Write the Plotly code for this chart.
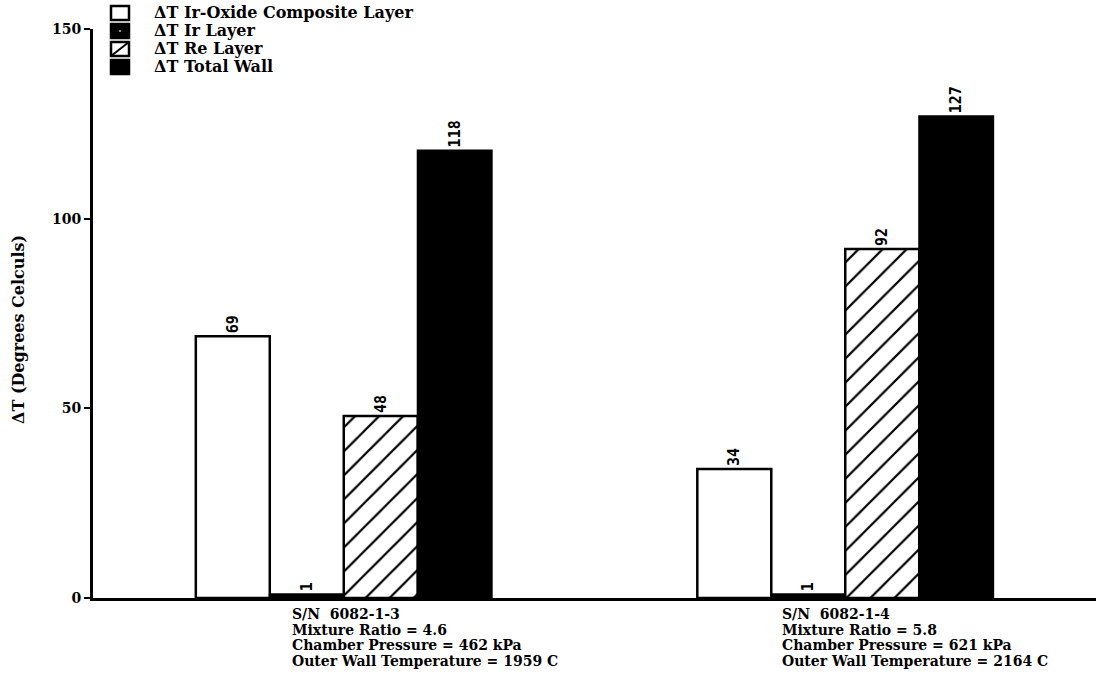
import plotly.graph_objects as go

# Test articles and their firing conditions
samples = ["S/N\u00a0 6082-1-3", "S/N\u00a0 6082-1-4"]
mixture_ratio = [4.6, 5.8]
chamber_pressure_kpa = [462, 621]
outer_wall_temp_c = [1959, 2164]

# Temperature drop across each layer (degrees C)
series_names = ["ΔT Ir-Oxide Composite Layer", "ΔT Ir Layer", "ΔT Re Layer", "ΔT Total Wall"]
dt_ir_oxide = [69, 34]
dt_ir = [1, 1]
dt_re = [48, 92]
dt_total = [118, 127]

y_ticks = [0, 50, 100, 150]

SERIF = "DejaVu Serif"
W, H = 1099, 685
ML, MR, MT, MB = 93, 3, 29, 87
PW, PH = W - ML - MR, H - MT - MB


def px_x(p):
    return (p - ML) / PW


def px_y(p):
    return (H - MB - p) / PH


label_font = dict(family="DejaVu Sans Mono", size=15, color="black", weight="bold")

styles = [
    dict(color="white", line=dict(color="black", width=2.5)),
    dict(color="black", line=dict(color="black", width=2)),
    dict(color="white", line=dict(color="black", width=2.5),
         pattern=dict(shape="/", fgcolor="#000000", fgopacity=1, bgcolor="white",
                      size=17, solidity=0.13, fillmode="replace")),
    dict(color="black", line=dict(color="black", width=2)),
]

fig = go.Figure()
for name, vals, marker in zip(series_names, [dt_ir_oxide, dt_ir, dt_re, dt_total], styles):
    fig.add_trace(go.Bar(
        name=name, x=samples, y=vals, marker=marker,
        text=[str(v) for v in vals], textposition="outside", textangle=-90,
        textfont=label_font, constraintext="none", cliponaxis=False,
        showlegend=False,
    ))

# Key in the top-left corner
key_rows = [13, 31, 49, 67]
shapes = []
annotations = []
for k, (name, yc) in enumerate(zip(series_names, key_rows)):
    x0, x1 = px_x(111), px_x(129)
    y0, y1 = px_y(yc + 7), px_y(yc - 7)
    fill = "black" if k in (1, 3) else "white"
    shapes.append(dict(type="rect", xref="paper", yref="paper", x0=x0, x1=x1, y0=y0, y1=y1,
                       fillcolor=fill, line=dict(color="black", width=2.5)))
    if k == 2:
        shapes.append(dict(type="line", xref="paper", yref="paper", x0=x0, x1=x1, y0=y0, y1=y1,
                           line=dict(color="black", width=2)))
    if k == 1:
        shapes.append(dict(type="rect", xref="paper", yref="paper",
                           x0=px_x(119), x1=px_x(121), y0=px_y(yc + 1), y1=px_y(yc - 1),
                           fillcolor="#888", line=dict(width=0)))
    annotations.append(dict(text=name, xref="paper", yref="paper", x=px_x(152), y=px_y(yc),
                            xanchor="left", yanchor="middle", showarrow=False,
                            font=dict(family=SERIF, size=16, color="black", weight="bold")))

# Test-condition captions under each group
caption_shift = [-54, -65]
for i, s in enumerate(samples):
    lines = [
        s,
        f"Mixture Ratio = {mixture_ratio[i]}",
        f"Chamber Pressure = {chamber_pressure_kpa[i]} kPa",
        f"Outer Wall Temperature = {outer_wall_temp_c[i]} C",
    ]
    for j, line in enumerate(lines):
        annotations.append(dict(text=line, xref="x", yref="paper", x=s, y=0,
                                xanchor="left", yanchor="middle", xshift=caption_shift[i],
                                yshift=-(16 + 15.6 * j), showarrow=False,
                                font=dict(family=SERIF, size=14, color="black", weight="bold")))

annotations.append(dict(text="ΔT (Degrees Celculs)", xref="paper", yref="paper",
                        x=px_x(18), y=px_y(330), textangle=-90, xanchor="center",
                        yanchor="middle", showarrow=False,
                        font=dict(family=SERIF, size=16, color="black", weight="bold")))

fig.update_layout(
    width=W, height=H,
    margin=dict(l=ML, r=MR, t=MT, b=MB),
    paper_bgcolor="white", plot_bgcolor="white",
    barmode="group", bargap=0.41, bargroupgap=0,
    shapes=shapes, annotations=annotations,
    xaxis=dict(range=[-0.5, 1.5], showticklabels=False, ticks="", showgrid=False,
               zeroline=False, showline=True, linecolor="black", linewidth=2.5),
    yaxis=dict(range=[0, 150], tickvals=y_ticks, ticks="outside", ticklen=6, tickwidth=2,
               tickcolor="black", showline=True, linecolor="black", linewidth=3,
               showgrid=False, zeroline=False,
               tickfont=dict(family=SERIF, size=14, color="black", weight="bold")),
)

fig.write_html("out.html")
